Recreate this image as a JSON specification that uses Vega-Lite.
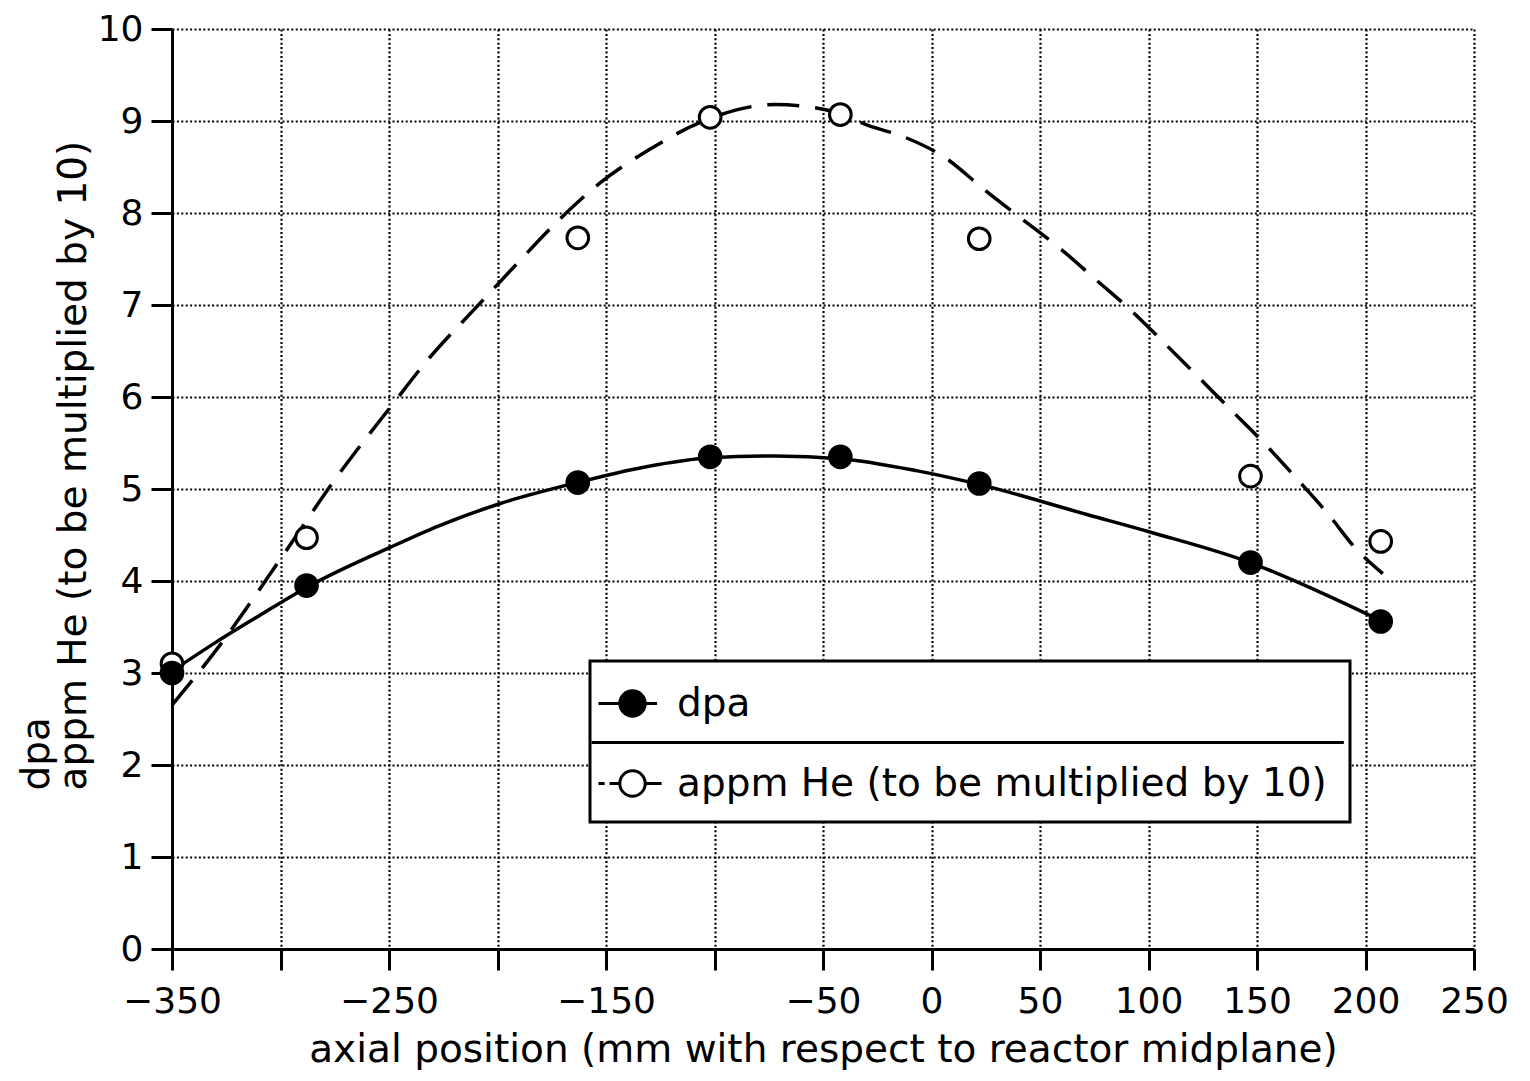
{
  "$schema": "https://vega.github.io/schema/vega-lite/v6.json",
  "width": 1302,
  "height": 920,
  "autosize": {"type": "none"},
  "padding": {"left": 172, "top": 29, "right": 56, "bottom": 132},
  "background": "white",
  "config": {
    "view": {"stroke": null},
    "font": "DejaVu Sans",
    "legend": {"strokeWidth": 3}
  },
  "datasets": {
    "measured": [
      {"position": -350, "value": 3.1, "series": "appm He (to be multiplied by 10)"},
      {"position": -288, "value": 4.47, "series": "appm He (to be multiplied by 10)"},
      {"position": -163, "value": 7.73, "series": "appm He (to be multiplied by 10)"},
      {"position": -102, "value": 9.04, "series": "appm He (to be multiplied by 10)"},
      {"position": -42, "value": 9.07, "series": "appm He (to be multiplied by 10)"},
      {"position": 22, "value": 7.72, "series": "appm He (to be multiplied by 10)"},
      {"position": 147, "value": 5.14, "series": "appm He (to be multiplied by 10)"},
      {"position": 207, "value": 4.43, "series": "appm He (to be multiplied by 10)"},
      {"position": -350, "value": 3.0, "series": "dpa"},
      {"position": -288, "value": 3.95, "series": "dpa"},
      {"position": -163, "value": 5.07, "series": "dpa"},
      {"position": -102, "value": 5.35, "series": "dpa"},
      {"position": -42, "value": 5.35, "series": "dpa"},
      {"position": 22, "value": 5.06, "series": "dpa"},
      {"position": 147, "value": 4.2, "series": "dpa"},
      {"position": 207, "value": 3.56, "series": "dpa"}
    ],
    "fitted": [
      {"position": -350, "value": 3.02, "series": "dpa"},
      {"position": -330, "value": 3.33, "series": "dpa"},
      {"position": -310, "value": 3.62, "series": "dpa"},
      {"position": -288, "value": 3.93, "series": "dpa"},
      {"position": -250, "value": 4.36, "series": "dpa"},
      {"position": -227, "value": 4.6, "series": "dpa"},
      {"position": -199, "value": 4.84, "series": "dpa"},
      {"position": -165, "value": 5.06, "series": "dpa"},
      {"position": -132, "value": 5.24, "series": "dpa"},
      {"position": -102, "value": 5.34, "series": "dpa"},
      {"position": -72, "value": 5.36, "series": "dpa"},
      {"position": -42, "value": 5.33, "series": "dpa"},
      {"position": -7, "value": 5.2, "series": "dpa"},
      {"position": 22, "value": 5.05, "series": "dpa"},
      {"position": 72, "value": 4.72, "series": "dpa"},
      {"position": 101, "value": 4.53, "series": "dpa"},
      {"position": 148, "value": 4.19, "series": "dpa"},
      {"position": 178, "value": 3.89, "series": "dpa"},
      {"position": 207, "value": 3.57, "series": "dpa"},
      {"position": -350, "value": 2.65, "series": "appm"},
      {"position": -328, "value": 3.3, "series": "appm"},
      {"position": -300, "value": 4.24, "series": "appm"},
      {"position": -275, "value": 5.1, "series": "appm"},
      {"position": -248, "value": 5.93, "series": "appm"},
      {"position": -233, "value": 6.38, "series": "appm"},
      {"position": -208, "value": 7.02, "series": "appm"},
      {"position": -191, "value": 7.45, "series": "appm"},
      {"position": -171, "value": 7.94, "series": "appm"},
      {"position": -152, "value": 8.34, "series": "appm"},
      {"position": -130, "value": 8.69, "series": "appm"},
      {"position": -106, "value": 8.99, "series": "appm"},
      {"position": -72, "value": 9.18, "series": "appm"},
      {"position": -45, "value": 9.1, "series": "appm"},
      {"position": -29, "value": 8.95, "series": "appm"},
      {"position": -13, "value": 8.83, "series": "appm"},
      {"position": 7, "value": 8.59, "series": "appm"},
      {"position": 24, "value": 8.26, "series": "appm"},
      {"position": 42, "value": 7.93, "series": "appm"},
      {"position": 60, "value": 7.6, "series": "appm"},
      {"position": 76, "value": 7.27, "series": "appm"},
      {"position": 92, "value": 6.94, "series": "appm"},
      {"position": 108, "value": 6.57, "series": "appm"},
      {"position": 122, "value": 6.24, "series": "appm"},
      {"position": 138, "value": 5.86, "series": "appm"},
      {"position": 152, "value": 5.53, "series": "appm"},
      {"position": 168, "value": 5.12, "series": "appm"},
      {"position": 182, "value": 4.75, "series": "appm"},
      {"position": 196, "value": 4.34, "series": "appm"},
      {"position": 208, "value": 4.08, "series": "appm"}
    ]
  },
  "encoding": {
    "x": {
      "field": "position",
      "type": "quantitative",
      "scale": {"domain": [-350, 250], "nice": false, "zero": false},
      "axis": {
        "values": [-350, -300, -250, -200, -150, -100, -50, 0, 50, 100, 150, 200, 250],
        "labelExpr": "datum.value === -300 || datum.value === -200 || datum.value === -100 ? '' : datum.label",
        "grid": true,
        "gridColor": "black",
        "gridOpacity": 1,
        "gridWidth": 2.2,
        "gridDash": [2, 2.4],
        "domainColor": "black",
        "domainWidth": 3,
        "tickColor": "black",
        "tickWidth": 3,
        "tickSize": 21,
        "labelFont": "DejaVu Sans",
        "labelFontSize": 36,
        "labelColor": "black",
        "labelPadding": 14,
        "labelFlush": false,
        "labelOverlap": false,
        "title": "axial position (mm with respect to reactor midplane)",
        "titleFont": "DejaVu Sans",
        "titleFontSize": 39,
        "titleFontWeight": "normal",
        "titleColor": "black",
        "titlePadding": 11
      }
    },
    "y": {
      "field": "value",
      "type": "quantitative",
      "scale": {"domain": [0, 10], "nice": false, "zero": false},
      "axis": {
        "values": [0, 1, 2, 3, 4, 5, 6, 7, 8, 9, 10],
        "grid": true,
        "gridColor": "black",
        "gridOpacity": 1,
        "gridWidth": 2.2,
        "gridDash": [2, 2.4],
        "domainColor": "black",
        "domainWidth": 3,
        "tickColor": "black",
        "tickWidth": 3,
        "tickSize": 21,
        "labelFont": "DejaVu Sans",
        "labelFontSize": 36,
        "labelColor": "black",
        "labelPadding": 8,
        "title": ["dpa", "appm He (to be multiplied by 10)"],
        "titleFont": "DejaVu Sans",
        "titleFontSize": 39,
        "titleFontWeight": "normal",
        "titleColor": "black",
        "titleAngle": 270,
        "titleAlign": "left",
        "titleBaseline": "alphabetic",
        "titleLineHeight": 37,
        "titleX": -124,
        "titleY": 761
      }
    }
  },
  "layer": [
    {
      "data": {"name": "fitted"},
      "transform": [{"filter": "datum.series === 'dpa'"}],
      "mark": {"type": "line", "color": "black", "strokeWidth": 3.5, "interpolate": "monotone"}
    },
    {
      "data": {"name": "fitted"},
      "transform": [{"filter": "datum.series === 'appm'"}],
      "mark": {"type": "line", "color": "black", "strokeWidth": 3.5, "strokeDash": [32, 16], "interpolate": "monotone"}
    },
    {
      "data": {"name": "measured"},
      "mark": {"type": "circle", "stroke": "black", "strokeWidth": 3, "opacity": 1, "size": 470},
      "encoding": {
        "fill": {
          "field": "series",
          "type": "nominal",
          "scale": {"domain": ["dpa", "appm He (to be multiplied by 10)"], "range": ["black", "white"]},
          "legend": {
            "title": null,
            "orient": "none",
            "legendX": 418,
            "legendY": 632,
            "padding": 0,
            "fillColor": "white",
            "strokeColor": "black",
            "symbolSize": 6724,
            "symbolType": {"expr": "datum.value === 'dpa' ? 'M-0.83,0H-0.31M0.31,0H0.6M-0.31,0A0.31,0.31,0,1,1,0.31,0A0.31,0.31,0,1,1,-0.31,0Z' : 'M-0.83,0H-0.68M-0.56,0H-0.31M0.31,0H0.71M-0.31,0A0.31,0.31,0,1,1,0.31,0A0.31,0.31,0,1,1,-0.31,0ZM-1.0,-1.0H17.35M0,0.79'"},
            "symbolStrokeColor": "black",
            "symbolStrokeWidth": 3,
            "symbolOpacity": 1,
            "labelFont": "DejaVu Sans",
            "labelFontSize": 39,
            "labelColor": "black",
            "labelOffset": 2,
            "labelLimit": 900,
            "rowPadding": 12
          }
        }
      }
    }
  ]
}
